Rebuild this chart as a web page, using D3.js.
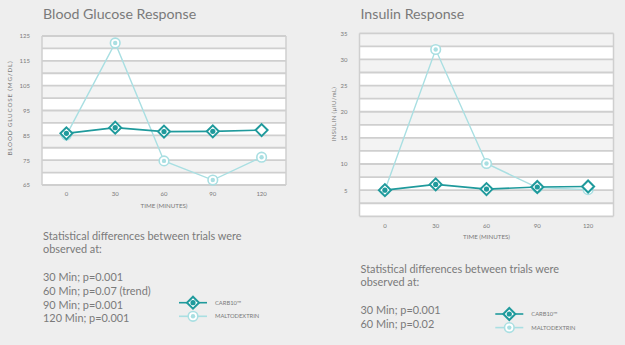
<!DOCTYPE html>
<html>
<head>
<meta charset="utf-8">
<script src="https://cdn.jsdelivr.net/npm/d3@7"></script>
<style>
body { margin: 0; background: #eeeeee; }
svg { display: block; font-family: Lato, "Open Sans", sans-serif; }
</style>
</head>
<body>
<div id="the_chart"></div>
<script>
let times = [0, 30, 60, 90, 120];
let glucose_carb10 = [85.8, 88.1, 86.5, 86.6, 87.1];
let glucose_malto = [85.1, 122.2, 74.7, 67.0, 76.2];
let insulin_carb10 = [5.0, 6.1, 5.2, 5.6, 5.7];
let insulin_malto = [5.0, 31.9, 10.1, 5.5, 5.1];
let glucose_ticks = [65, 75, 85, 95, 105, 115, 125];
let insulin_ticks = [5, 10, 15, 20, 25, 30, 35];
let series_names = ["CARB10\u2122", "MALTODEXTRIN"];
let glucose_notes = ["Statistical differences between trials were", "observed at:", "", "30 Min; p=0.001", "60 Min; p=0.07 (trend)", "90 Min; p=0.001", "120 Min; p=0.001"];
let insulin_notes = ["Statistical differences between trials were", "observed at:", "", "30 Min; p=0.001", "60 Min; p=0.02"];

var dark = "#1f9a9c";
var light = "#a9dfe2";
var textc = "#7a7a7a";

var w = 625, h = 345;
var svg = d3.select("#the_chart").append("svg")
    .attr("width", w).attr("height", h);

function diamond(g, x, y, open) {
    var s = 6;
    g.append("path")
        .attr("d", "M" + x + "," + (y - s) + "L" + (x + s) + "," + y + "L" + x + "," + (y + s) + "L" + (x - s) + "," + y + "Z")
        .attr("fill", "white").attr("stroke", dark).attr("stroke-width", 2);
    if (!open) {
        g.append("circle").attr("cx", x).attr("cy", y).attr("r", 2.6).attr("fill", dark);
    }
}

function ring(g, x, y) {
    g.append("circle").attr("cx", x).attr("cy", y).attr("r", 4.8)
        .attr("fill", "white").attr("stroke", light).attr("stroke-width", 1.6);
    g.append("circle").attr("cx", x).attr("cy", y).attr("r", 2.2).attr("fill", light);
}

function draw_chart(opt) {
    var g = svg.append("g");
    var xscale = d3.scaleBand().domain(times).range([opt.left, opt.right]);
    var yscale = d3.scaleLinear().domain(opt.domain).range([opt.bottom, opt.top]);

    // alternating bands
    var bands = d3.range(opt.domain[1], opt.domain[0], -opt.step);
    g.selectAll(".band").data(bands).enter().append("rect")
        .attr("x", opt.left).attr("width", opt.right - opt.left)
        .attr("y", d => yscale(d))
        .attr("height", d => yscale(d - opt.step) - yscale(d))
        .attr("fill", (d, i) => i % 2 == 0 ? "#f3f3f3" : "#ffffff");
    g.selectAll(".grid").data(d3.range(opt.domain[0], opt.domain[1] + 0.01, opt.step)).enter().append("line")
        .attr("x1", opt.left).attr("x2", opt.right)
        .attr("y1", d => yscale(d)).attr("y2", d => yscale(d))
        .attr("stroke", "#cfcfcf").attr("stroke-width", 1.8);
    g.append("line").attr("x1", opt.left).attr("x2", opt.left)
        .attr("y1", opt.top).attr("y2", opt.bottom).attr("stroke", "#cfcfcf").attr("stroke-width", 1.5);
    g.append("line").attr("x1", opt.right).attr("x2", opt.right)
        .attr("y1", opt.top).attr("y2", opt.bottom).attr("stroke", "#cfcfcf").attr("stroke-width", 1.5);

    // y axis
    var yaxis = d3.axisLeft(yscale).tickValues(opt.ticks).tickSize(0).tickPadding(0);
    var ya = g.append("g").attr("transform", "translate(" + (opt.left - 12) + ",0)").call(yaxis);
    ya.select(".domain").remove();
    ya.selectAll("text").attr("fill", textc).attr("font-size", 6).attr("font-family", "Lato");

    // x axis
    var xaxis = d3.axisBottom(xscale).tickSize(0).tickPadding(0);
    var xa = g.append("g").attr("transform", "translate(0," + (opt.bottom + 7) + ")").call(xaxis);
    xa.select(".domain").remove();
    xa.selectAll("text").attr("fill", textc).attr("font-size", 6).attr("font-family", "Lato");

    g.append("text").attr("x", (opt.left + opt.right) / 2).attr("y", opt.bottom + 23)
        .attr("text-anchor", "middle").attr("font-size", 6.2).attr("fill", textc)
        .text("TIME (MINUTES)");
    g.append("text")
        .attr("transform", "translate(" + opt.ylabx + "," + opt.ylaby + ") rotate(-90)")
        .attr("text-anchor", "middle").attr("font-size", opt.ylabsize).attr("fill", textc)
        .attr("letter-spacing", opt.ylabspace)
        .text(opt.ylabel);

    g.append("text").attr("x", opt.left + 1).attr("y", 19)
        .attr("font-size", 14.2)
        .attr("fill", textc).text(opt.title);

    var cx = (d, i) => xscale.bandwidth() / 2 + xscale(times[i]);
    var line = d3.line().x(cx).y(d => yscale(d));
    g.append("path").datum(opt.malto).attr("d", line)
        .attr("fill", "none").attr("stroke", light).attr("stroke-width", 1.4);
    opt.malto.forEach((d, i) => ring(g, cx(d, i), yscale(d)));
    g.append("path").datum(opt.carb).attr("d", line)
        .attr("fill", "none").attr("stroke", dark).attr("stroke-width", 1.6);
    opt.carb.forEach((d, i) => diamond(g, cx(d, i), yscale(d), i == opt.carb.length - 1));

    // notes
    g.selectAll(".note").data(opt.notes).enter().append("text")
        .attr("x", opt.left + 1)
        .attr("y", (d, i) => opt.notey + i * 13.8)
        .attr("font-size", 10.9).attr("fill", textc)
        .text(d => d);

    // legend
    series_names.forEach(function (name, i) {
        var ly = opt.legy + i * 13.6;
        var lx = opt.legx;
        g.append("line").attr("x1", lx - 14).attr("x2", lx + 14).attr("y1", ly).attr("y2", ly)
            .attr("stroke", i == 0 ? dark : light).attr("stroke-width", 1.6);
        if (i == 0) diamond(g, lx, ly, false); else ring(g, lx, ly);
        g.append("text").attr("x", lx + 22).attr("y", ly + 2).attr("font-size", 5.8)
            .attr("fill", textc).text(name);
    });
}

draw_chart({
    title: "Blood Glucose Response", ylabel: "BLOOD GLUCOSE (MG/DL)",
    left: 42, right: 286, top: 36, bottom: 185, domain: [65, 125], step: 5,
    ticks: glucose_ticks, carb: glucose_carb10, malto: glucose_malto,
    ylabx: 12, ylaby: 108, ylabsize: 6.3, ylabspace: 0.8,
    notes: glucose_notes, notey: 239.5, legx: 193, legy: 302.7
});
draw_chart({
    title: "Insulin Response", ylabel: "INSULIN (\u00b5IU/mL)",
    left: 359.5, right: 613.5, top: 33.3, bottom: 216.3, domain: [0, 35], step: 2.5,
    ticks: insulin_ticks, carb: insulin_carb10, malto: insulin_malto,
    ylabx: 336, ylaby: 114, ylabsize: 5.8, ylabspace: 0.5,
    notes: insulin_notes, notey: 272.5, legx: 509.3, legy: 314
});
</script>
</body>
</html>
